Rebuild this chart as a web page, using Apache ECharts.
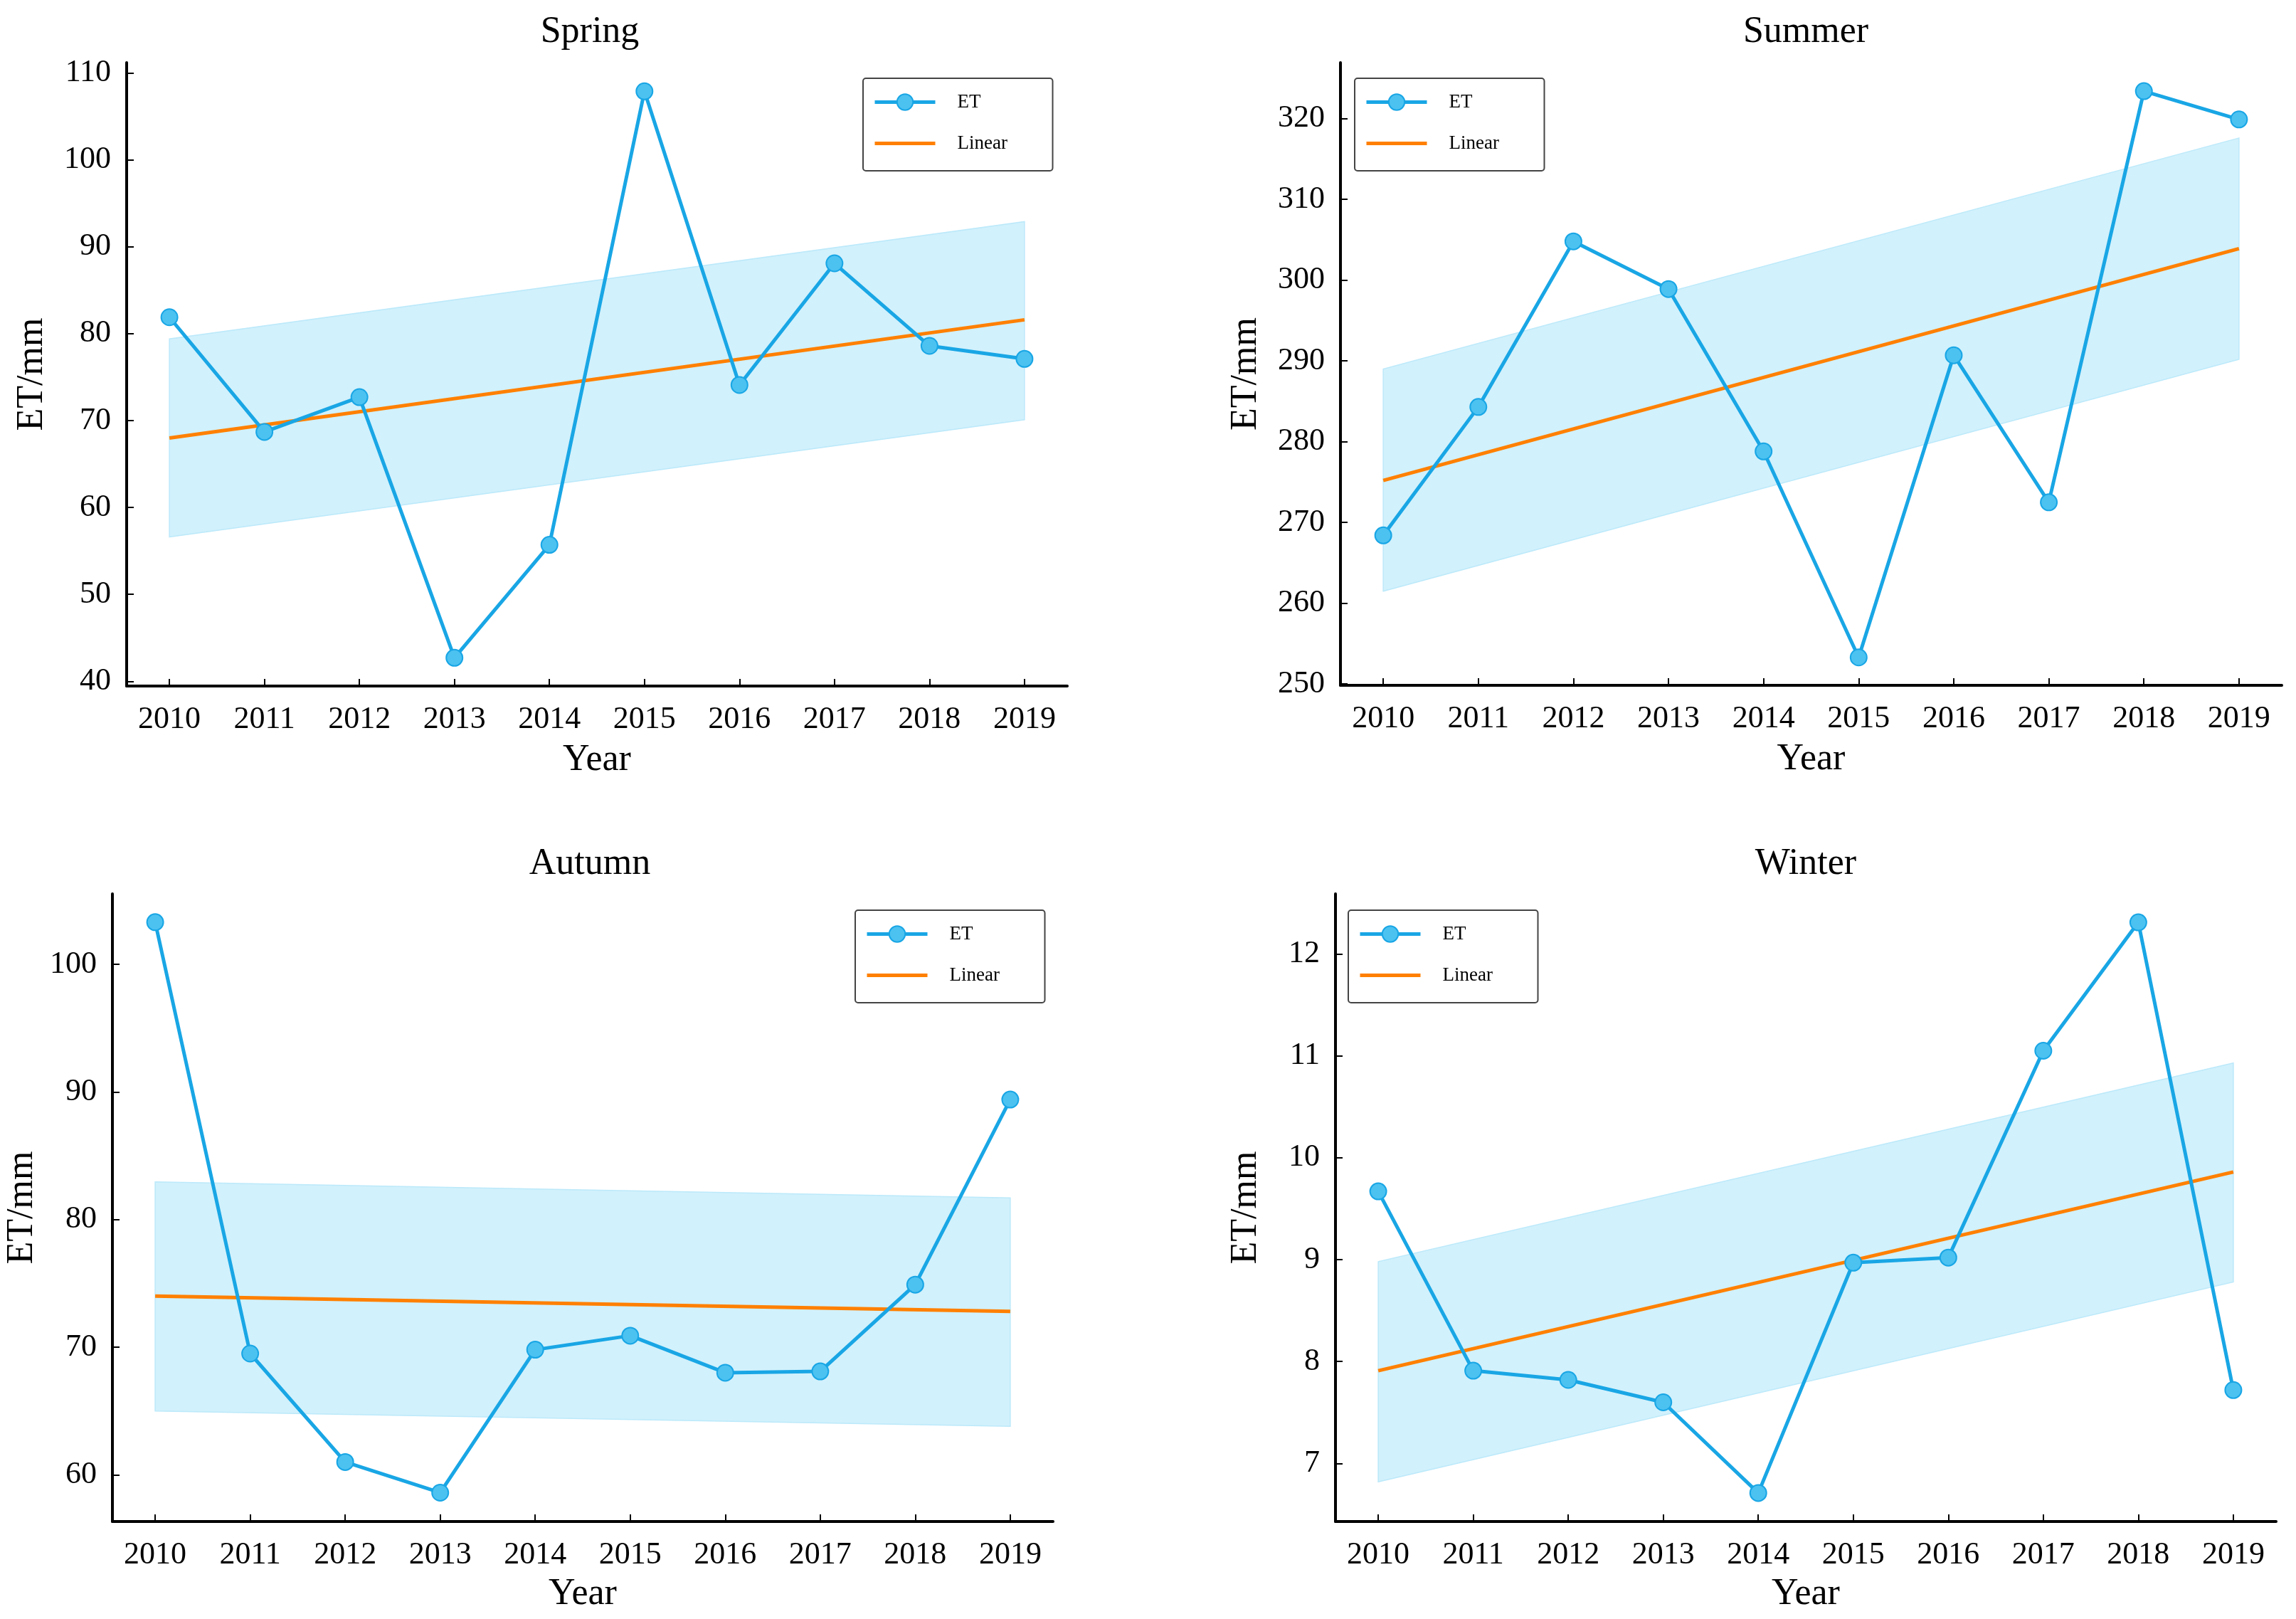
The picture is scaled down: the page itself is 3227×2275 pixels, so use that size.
<!DOCTYPE html>
<html><head><meta charset="utf-8">
<script src="https://cdn.jsdelivr.net/npm/echarts@6/dist/echarts.min.js"></script>
<style>html,body{margin:0;padding:0;background:#fff}#c{width:3227px;height:2275px}</style>
</head><body><div id="c"></div>
<script>
// ---------------- data ----------------
const years = [2010, 2011, 2012, 2013, 2014, 2015, 2016, 2017, 2018, 2019];
const springET = [81.9, 68.7, 72.7, 42.7, 55.7, 107.9, 74.1, 88.1, 78.6, 77.1];
const summerET = [268.4, 284.3, 304.8, 298.9, 278.8, 253.3, 290.7, 272.5, 323.4, 319.9];
const autumnET = [103.3, 69.5, 61.0, 58.6, 69.8, 70.9, 68.0, 68.1, 74.9, 89.4];
const winterET = [9.67, 7.91, 7.82, 7.60, 6.71, 8.97, 9.02, 11.05, 12.31, 7.72];

const fitYears = [2010, 2019];
const springFit = [68.0, 81.6];
const springUpper = [79.4, 92.9];
const springLower = [56.6, 70.1];
const summerFit = [275.2, 303.9];
const summerUpper = [289.0, 317.6];
const summerLower = [261.5, 290.2];
const autumnFit = [74.0, 72.8];
const autumnUpper = [82.95, 81.7];
const autumnLower = [65.0, 63.8];
const winterFit = [7.91, 9.86];
const winterUpper = [8.98, 10.93];
const winterLower = [6.82, 8.78];

const springTicks = [40, 50, 60, 70, 80, 90, 100, 110];
const summerTicks = [250, 260, 270, 280, 290, 300, 310, 320];
const autumnTicks = [60, 70, 80, 90, 100];
const winterTicks = [7, 8, 9, 10, 11, 12];

const xRange = [2009.55, 2019.45];
const springRange = [39.45, 111.2];
const summerRange = [249.84, 326.93];
const autumnRange = [56.34, 105.52];
const winterRange = [6.43, 12.59];

const titles = ['Spring', 'Summer', 'Autumn', 'Winter'];

// ---------------- layout / style ----------------
const FONT = 'Liberation Serif';
const panels = [
  {title: titles[0], et: springET, fit: springFit, up: springUpper, lo: springLower, ticks: springTicks, range: springRange,
   left: 178, top: 88, width: 1322, height: 876, titleX: 829, titleTop: 19, yGap: 107, xGap: 78, legLeft: 1213, legTop: 110},
  {title: titles[1], et: summerET, fit: summerFit, up: summerUpper, lo: summerLower, ticks: summerTicks, range: summerRange,
   left: 1884, top: 88, width: 1323, height: 875, titleX: 2538, titleTop: 19, yGap: 107, xGap: 78, legLeft: 1904, legTop: 110},
  {title: titles[2], et: autumnET, fit: autumnFit, up: autumnUpper, lo: autumnLower, ticks: autumnTicks, range: autumnRange,
   left: 158, top: 1256, width: 1322, height: 882, titleX: 829, titleTop: 1188, yGap: 101, xGap: 76, legLeft: 1202, legTop: 1279},
  {title: titles[3], et: winterET, fit: winterFit, up: winterUpper, lo: winterLower, ticks: winterTicks, range: winterRange,
   left: 1877, top: 1256, width: 1322, height: 882, titleX: 2538, titleTop: 1188, yGap: 100, xGap: 76, legLeft: 1895, legTop: 1279}
];

const BLUE = '#19a6e5';
const BLUE_FILL = '#4cc2f1';
const ORANGE = '#ff8000';
const BAND = 'rgb(209,241,252)';

const chart = echarts.init(document.getElementById('c'), null, {renderer: 'canvas', width: 3227, height: 2275});

const option = {
  animation: false,
  backgroundColor: '#fff',
  title: panels.map(p => ({
    text: p.title, left: p.titleX, top: p.titleTop, textAlign: 'center', padding: 0,
    textStyle: {fontSize: 52, fontWeight: 'normal', fontFamily: FONT, color: '#000'}
  })),
  legend: panels.map(p => ({
    orient: 'vertical', left: p.legLeft, top: p.legTop,
    padding: [20, 20, 25, 14], itemWidth: 85, itemHeight: 28, itemGap: 31,
    backgroundColor: '#fff', borderColor: '#444', borderWidth: 2, borderRadius: 4,
    selectedMode: false,
    lineStyle: {width: 5},
    formatter: name => '{t|' + name + '}',
    textStyle: {
      color: '#000', fontFamily: FONT, fontSize: 27,
      rich: {t: {fontSize: 27, fontFamily: FONT, color: '#000', lineHeight: 30, width: 114, align: 'left', padding: [0, 0, 0, 26]}}
    },
    data: [{name: 'ET'}, {name: 'Linear', itemStyle: {opacity: 0}}]
  })),
  grid: panels.map(p => ({left: p.left, top: p.top, width: p.width, height: p.height, containLabel: false})),
  xAxis: panels.map((p, i) => ({
    type: 'value', gridIndex: i, min: xRange[0], max: xRange[1],
    name: 'Year', nameLocation: 'middle', nameGap: p.xGap,
    nameTextStyle: {fontSize: 52, fontFamily: FONT, color: '#000'},
    axisLine: {show: true, onZero: false, lineStyle: {color: '#000', width: 4}},
    axisTick: {show: true, inside: true, length: 10, lineStyle: {color: '#000', width: 2}, customValues: years},
    axisLabel: {customValues: years, fontSize: 44, margin: 25, color: '#000', fontFamily: FONT, formatter: v => String(Math.round(v))},
    splitLine: {show: false}
  })),
  yAxis: panels.map((p, i) => ({
    type: 'value', gridIndex: i, min: p.range[0], max: p.range[1],
    name: 'ET/mm', nameLocation: 'middle', nameGap: p.yGap, nameRotate: 90,
    nameTextStyle: {fontSize: 52, fontFamily: FONT, color: '#000'},
    axisLine: {show: true, onZero: false, lineStyle: {color: '#000', width: 4}},
    axisTick: {show: true, inside: true, length: 10, lineStyle: {color: '#000', width: 2}, customValues: p.ticks},
    axisLabel: {customValues: p.ticks, fontSize: 44, margin: 22, color: '#000', fontFamily: FONT, formatter: v => String(v)},
    splitLine: {show: false}
  })),
  series: []
};

panels.forEach((p, i) => {
  option.series.push({
    type: 'custom', xAxisIndex: i, yAxisIndex: i, silent: true, z: 1, clip: true,
    data: fitYears.map((y, k) => [y, p.lo[k], p.up[k]]),
    encode: {x: 0, y: [1, 2]},
    renderItem: (params, api) => {
      if (params.dataIndex !== 0) return null;
      const pts = [];
      fitYears.forEach((y, k) => pts.push(api.coord([y, p.lo[k]])));
      for (let k = fitYears.length - 1; k >= 0; k--) pts.push(api.coord([fitYears[k], p.up[k]]));
      return {type: 'polygon', shape: {points: pts}, style: {fill: BAND, stroke: 'rgb(188,233,250)', lineWidth: 1.5}};
    }
  });
  option.series.push({
    type: 'line', name: 'Linear', xAxisIndex: i, yAxisIndex: i, z: 3,
    data: fitYears.map((y, k) => [y, p.fit[k]]),
    symbol: 'none', lineStyle: {color: ORANGE, width: 5}, itemStyle: {color: ORANGE}
  });
  option.series.push({
    type: 'line', name: 'ET', xAxisIndex: i, yAxisIndex: i, z: 4,
    data: years.map((y, k) => [y, p.et[k]]),
    symbol: 'circle', symbolSize: 23,
    lineStyle: {color: BLUE, width: 5},
    itemStyle: {color: BLUE_FILL, borderColor: BLUE, borderWidth: 2}
  });
});

chart.setOption(option);
</script>
</body></html>
